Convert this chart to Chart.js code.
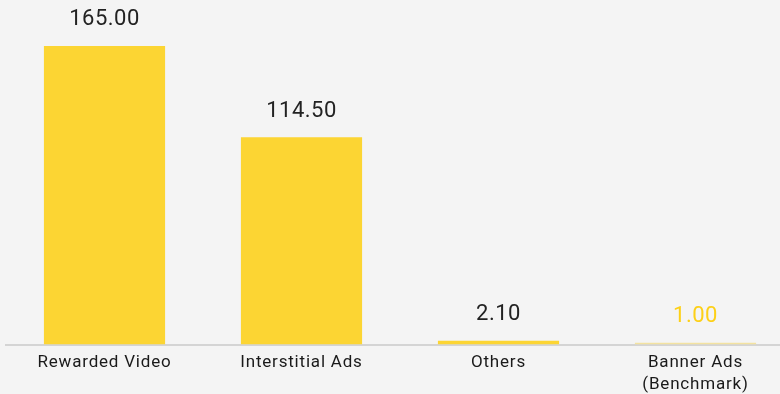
<!DOCTYPE html>
<html>
<head>
<meta charset="utf-8">
<script src="https://cdn.jsdelivr.net/npm/chart.js@4/dist/chart.umd.min.js"></script>
<style>
  html, body { margin: 0; padding: 0; background: #f4f4f4; overflow: hidden; }
  #wrap { width: 794px; height: 403px; }
</style>
</head>
<body>
<div id="wrap"><canvas id="c" width="794" height="403"></canvas></div>
<script>
const categories = ['Rewarded Video', 'Interstitial Ads', 'Others', ['Banner Ads', '(Benchmark)']];
const values = [165.00, 114.50, 2.10, 1.00];
const barColors = ['#fcd533', '#fcd533', '#fcd533', '#f3e2a0'];
const labelColors = ['#222222', '#222222', '#222222', '#fdd017'];

// Slightly open letter spacing for all chart text
const spacing = {
  id: 'spacing',
  beforeDraw(chart) { chart.ctx.letterSpacing = '0.8px'; },
  beforeUpdate(chart) { chart.ctx.letterSpacing = '0.8px'; }
};

// Writes each bar's value above it, positioned from the bar element itself
const valueLabels = {
  id: 'valueLabels',
  afterDatasetsDraw(chart) {
    const ctx = chart.ctx;
    const meta = chart.getDatasetMeta(0);
    ctx.save();
    ctx.font = '22px Roboto, sans-serif';
    ctx.letterSpacing = '0.5px';
    ctx.textAlign = 'center';
    ctx.textBaseline = 'middle';
    meta.data.forEach((bar, i) => {
      ctx.fillStyle = labelColors[i];
      ctx.fillText(values[i].toFixed(2), bar.x, bar.y - 26);
    });
    ctx.restore();
  }
};

new Chart(document.getElementById('c'), {
  type: 'bar',
  data: {
    labels: categories,
    datasets: [{
      data: values,
      backgroundColor: barColors,
      borderWidth: 0,
      categoryPercentage: 1,
      barPercentage: 0.615
    }]
  },
  options: {
    responsive: false,
    animation: false,
    layout: { padding: { left: 6, right: 0, top: 0, bottom: 0 } },
    plugins: { legend: { display: false }, tooltip: { enabled: false } },
    scales: {
      x: {
        grid: { display: false, drawTicks: false },
        border: { display: true, color: '#d4d4d4', width: 2 },
        ticks: {
          color: '#1a1a1a',
          padding: 8,
          maxRotation: 0,
          autoSkip: false,
          font: { family: 'Roboto, sans-serif', size: 17, lineHeight: 1.25 }
        }
      },
      y: {
        display: false,
        min: 0,
        max: 190.4
      }
    }
  },
  plugins: [spacing, valueLabels]
});
</script>
</body>
</html>
